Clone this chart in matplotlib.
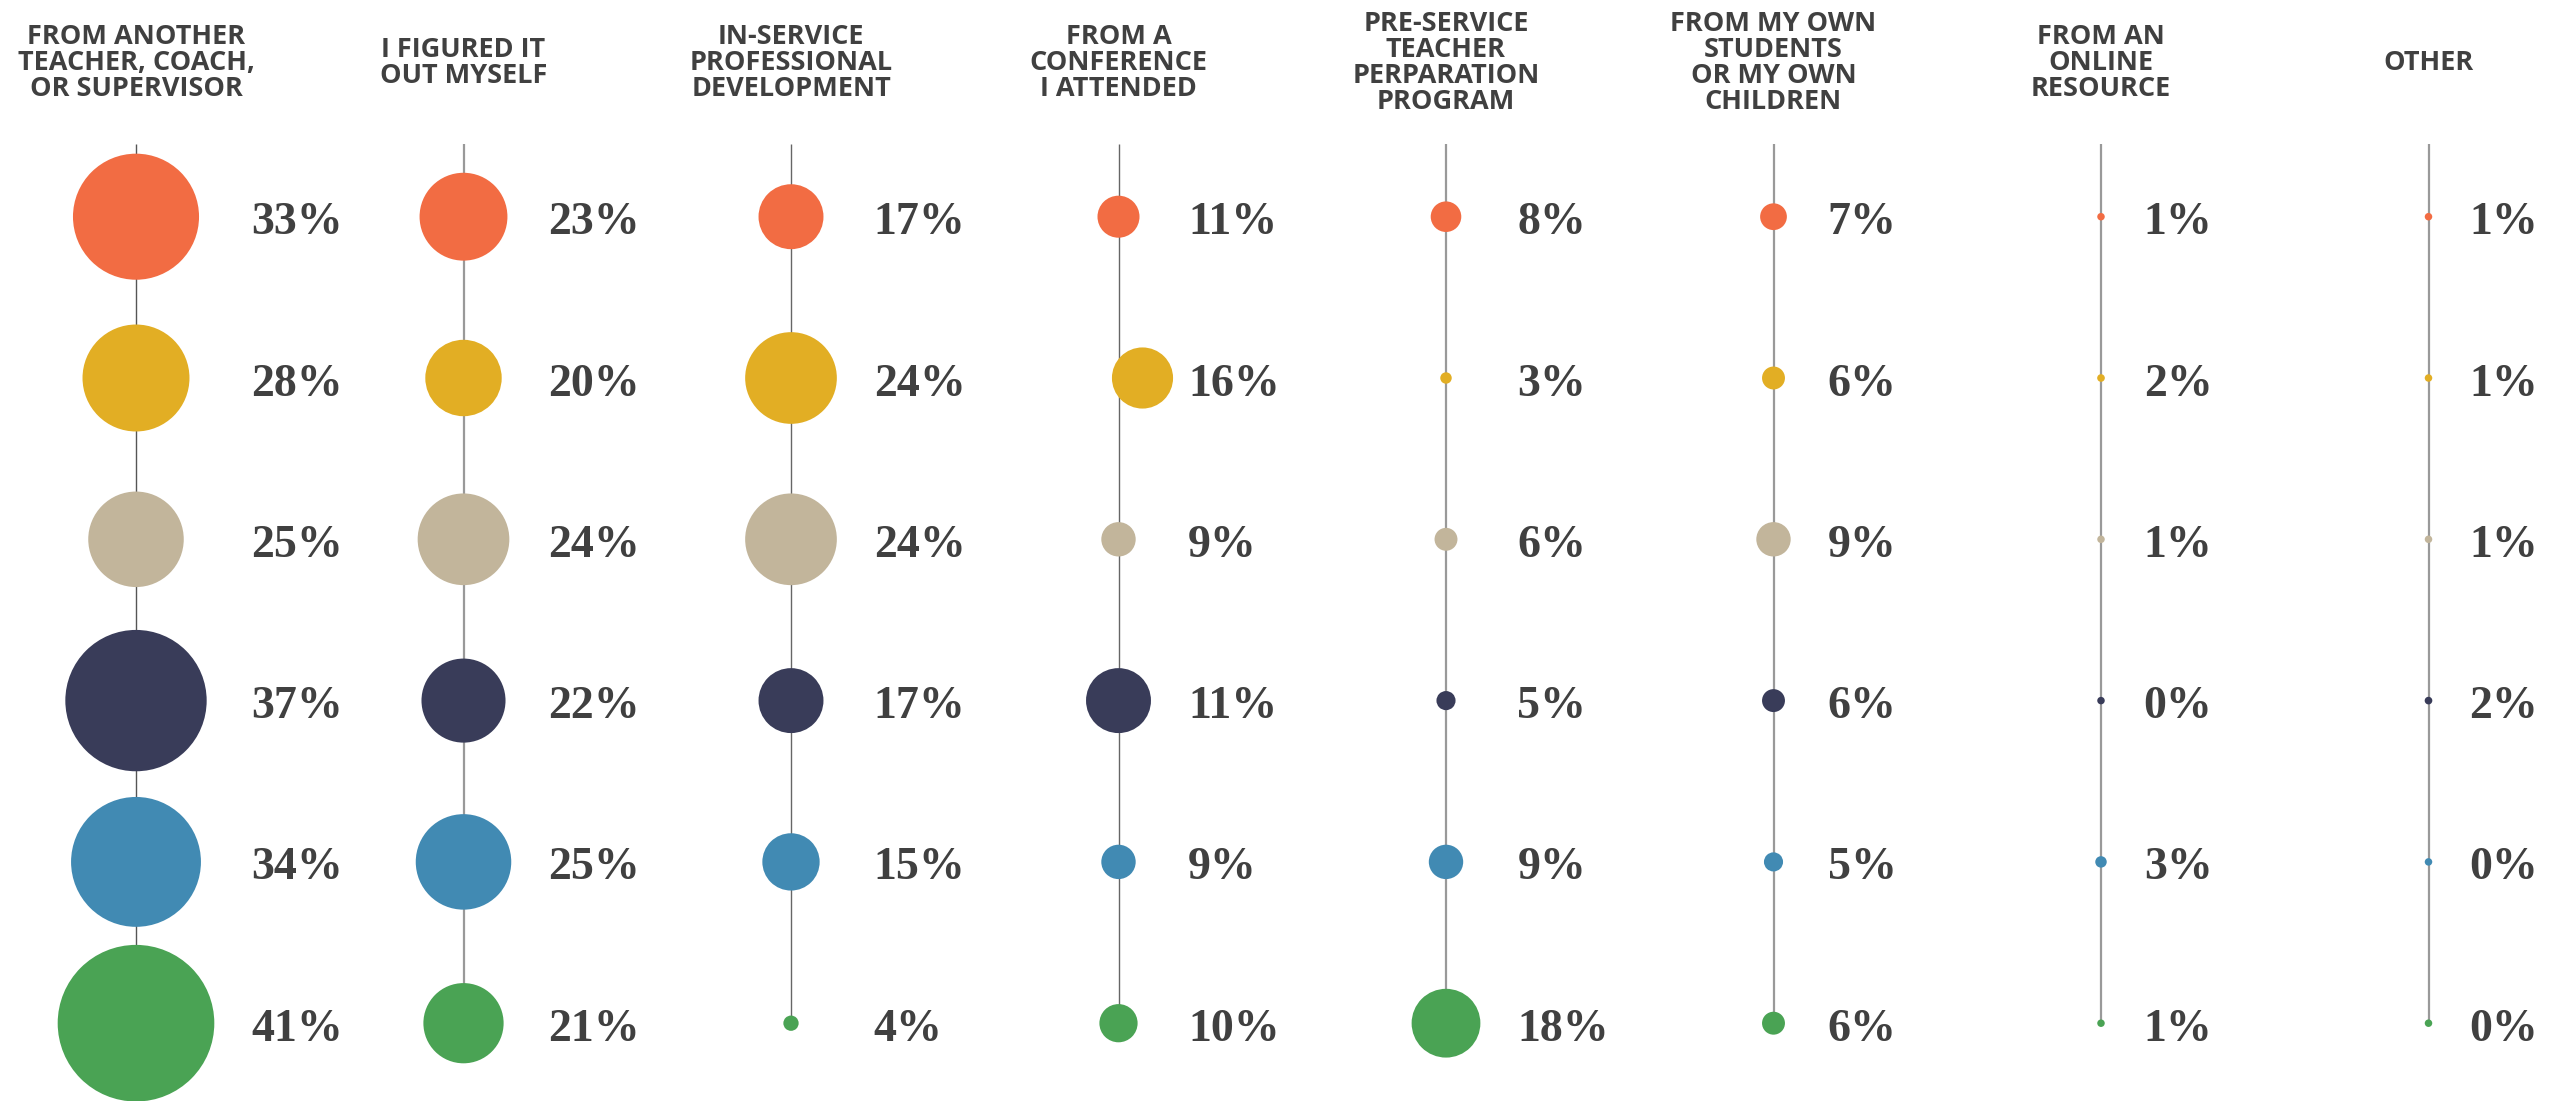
import numpy as np
import matplotlib
matplotlib.use("Agg")
import matplotlib.pyplot as plt
from matplotlib.patches import Circle

# ---- data ----
categories = [
    "FROM ANOTHER\nTEACHER, COACH,\nOR SUPERVISOR",
    "I FIGURED IT\nOUT MYSELF",
    "IN-SERVICE\nPROFESSIONAL\nDEVELOPMENT",
    "FROM A\nCONFERENCE\nI ATTENDED",
    "PRE-SERVICE\nTEACHER\nPERPARATION\nPROGRAM",
    "FROM MY OWN\nSTUDENTS\nOR MY OWN\nCHILDREN",
    "FROM AN\nONLINE\nRESOURCE",
    "OTHER",
]
# rows: orange, yellow, beige, navy, blue, green
row1 = [33, 23, 17, 11, 8, 7, 1, 1]
row2 = [28, 20, 24, 16, 3, 6, 2, 1]
row3 = [25, 24, 24, 9, 6, 9, 1, 1]
row4 = [37, 22, 17, 11, 5, 6, 0, 2]
row5 = [34, 25, 15, 9, 9, 5, 3, 0]
row6 = [41, 21, 4, 10, 18, 6, 1, 0]
rows = [row1, row2, row3, row4, row5, row6]
# in the original, the navy "conference" bubble is drawn at the size of 17%
size_override = {(3, 3): 17}

# ---- style ----
row_colors = ["#F26C43", "#E2AE24", "#C2B59B", "#393C59", "#418AB3", "#4AA354"]
line_colors = ["#555555", "#999999", "#666666", "#666666", "#999999", "#999999", "#999999", "#999999"]
line_widths = [1.0, 1.6, 1.0, 1.0, 1.6, 1.6, 1.6, 1.6]
text_color = "#404040"

W, H = 2563, 1101
fig = plt.figure(figsize=(W / 100, H / 100), dpi=100)
ax = fig.add_axes([0, 0, 1, 1])
ax.set_xlim(0, W)
ax.set_ylim(H, 0)
ax.axis("off")

x0, dx = 136, 327.5
y0, dy = 216.7, 161.3
scale = 3.82      # diameter (px) per percentage point
min_d = 7.5
xs = x0 + dx * np.arange(len(categories))
ys = y0 + dy * np.arange(len(rows))
vals = np.array(rows)  # shape (6, 8)

for i, cat in enumerate(categories):
    x = xs[i]
    ax.plot([x, x], [144, ys[-1]], color=line_colors[i], lw=line_widths[i], zorder=1,
            solid_capstyle="butt")
    ax.text(x, 63, cat, ha="center", va="center", fontsize=19.5,
            fontweight="bold", family=["Open Sans", "DejaVu Sans"], color=text_color,
            linespacing=1.0)
    col = vals[:, i]
    sizes = [size_override.get((j, i), v) for j, v in enumerate(col)]
    maxr = max(max(sizes) * scale, min_d) / 2
    for j, v in enumerate(col):
        d = max(sizes[j] * scale, min_d)
        cx = x
        # the 16% conference bubble sits off its line in the original
        if i == 3 and j == 1:
            cx = x + 24
        ax.add_patch(Circle((cx, ys[j]), d / 2, facecolor=row_colors[j],
                            edgecolor="none", zorder=2))
        ax.text(x + maxr + 37, ys[j] + 17.5, f"{v}%", ha="left", va="baseline",
                fontsize=33, fontweight="bold",
                family=["Liberation Serif", "DejaVu Serif"], color=text_color)

fig.savefig("out.png", dpi=100, facecolor="white")
